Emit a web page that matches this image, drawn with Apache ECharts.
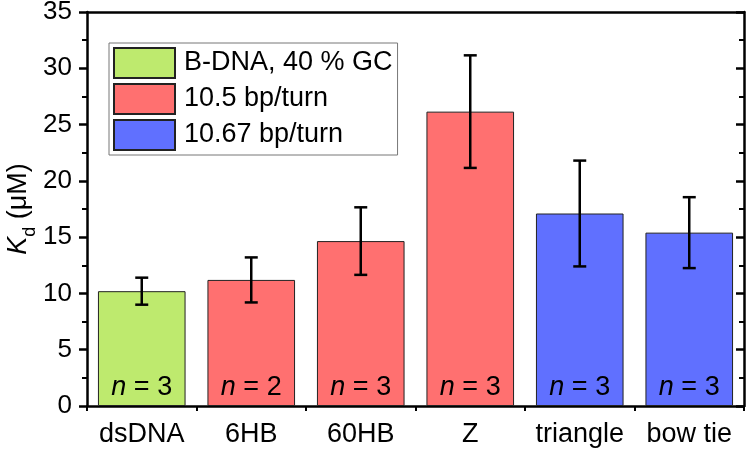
<!DOCTYPE html>
<html><head><meta charset="utf-8">
<script src="https://cdn.jsdelivr.net/npm/echarts@6/dist/echarts.min.js"></script>
<style>html,body{margin:0;padding:0;background:#fff}#c{width:750px;height:452px}</style>
</head><body><div id="c"></div>
<script>
const categories = ['dsDNA', '6HB', '60HB', 'Z', 'triangle', 'bow tie'];
const groupNames = ['B-DNA, 40 % GC', '10.5 bp/turn', '10.67 bp/turn'];
const groupOf = [0, 1, 1, 1, 2, 2];
const kdMean = [10.2, 11.2, 14.65, 26.15, 17.1, 15.4];
const kdErr = [1.2, 2.0, 3.0, 5.0, 4.7, 3.15];
const nCounts = [3, 2, 3, 3, 3, 3];
const yTicks = [0, 5, 10, 15, 20, 25, 30, 35];
const colors = ['#BEEA6E', '#FF7070', '#6070FF'];

const FONT = 'Liberation Sans';
const FS = 27;
const chart = echarts.init(document.getElementById('c'), null, {renderer: 'canvas'});

const barSeries = groupNames.map((name, g) => ({
  type: 'bar', name: name, xAxisIndex: 0, yAxisIndex: 0,
  barWidth: '80%', barGap: '-100%',
  itemStyle: {color: colors[g], borderColor: '#222', borderWidth: 1},
  data: kdMean.map((v, i) => groupOf[i] === g ? v : '-'),
  label: {
    show: true, position: 'insideBottom', distance: 5,
    formatter: p => '{i|n}{t| = ' + nCounts[p.dataIndex] + '}',
    rich: {
      i: {fontFamily: FONT, fontSize: FS, fontStyle: 'italic', color: '#000'},
      t: {fontFamily: FONT, fontSize: FS, color: '#000'}
    }
  },
  z: 2
}));

const errData = kdMean.map((v, i) => [i, v - kdErr[i], v + kdErr[i]]);

const option = {
  animation: false,
  grid: {left: 87, right: 6, top: 12, bottom: 46, containLabel: false, outerBoundsMode: 'none'},
  legend: {
    data: groupNames, orient: 'vertical', left: 109, top: 43,
    itemWidth: 61, itemHeight: 30, itemGap: 4,
    padding: [4, 5, 4, 4],
    borderColor: '#777', borderWidth: 1,
    icon: 'rect',
    itemStyle: {borderColor: '#222', borderWidth: 2},
    textStyle: {fontFamily: FONT, fontSize: FS, color: '#000', padding: [0, 0, 0, 4]}
  },
  xAxis: [
    {type: 'category', data: categories, position: 'bottom',
      axisLine: {lineStyle: {color: '#000', width: 2.5}},
      axisTick: {alignWithLabel: true, interval: 0, length: 8, lineStyle: {width: 2.5, color: '#000'}},
      axisLabel: {interval: 0, hideOverlap: false, fontFamily: FONT, fontSize: FS, color: '#000', margin: 15}},
    {type: 'category', data: categories, position: 'bottom',
      axisLine: {show: false},
      axisTick: {show: true, interval: 0, length: 5, lineStyle: {width: 2, color: '#000'}},
      axisLabel: {show: false}},
    {type: 'category', data: categories, position: 'top',
      axisLine: {lineStyle: {color: '#000', width: 2.5}},
      axisTick: {alignWithLabel: true, interval: 0, inside: true, length: 8, lineStyle: {width: 2.5, color: '#000'}},
      axisLabel: {show: false}}
  ],
  yAxis: [
    {type: 'value', min: yTicks[0], max: yTicks[yTicks.length - 1], interval: 5,
      name: '{k|K}{s|d}{t| (μM)}', nameLocation: 'middle', nameGap: 55, nameRotate: 90,
      nameMoveOverlap: false,
      nameTextStyle: {rich: {
        k: {fontFamily: FONT, fontSize: FS, fontStyle: 'italic', color: '#000'},
        s: {fontFamily: FONT, fontSize: 18, color: '#000', verticalAlign: 'bottom', padding: [0, 0, -7, 0]},
        t: {fontFamily: FONT, fontSize: FS, color: '#000'}
      }},
      axisLine: {show: true, lineStyle: {color: '#000', width: 2.5}},
      axisTick: {show: true, length: 8, lineStyle: {width: 2.5, color: '#000'}},
      minorTick: {show: true, splitNumber: 2, length: 5, lineStyle: {width: 2, color: '#000'}},
      splitLine: {show: false},
      axisLabel: {fontFamily: FONT, fontSize: 26, color: '#000', margin: 15}},
    {type: 'value', position: 'right', min: yTicks[0], max: yTicks[yTicks.length - 1], interval: 5,
      axisLine: {show: true, lineStyle: {color: '#000', width: 2.5}},
      axisTick: {show: true, inside: true, length: 8, lineStyle: {width: 2.5, color: '#000'}},
      minorTick: {show: true, splitNumber: 2, length: 5, lineStyle: {width: 2, color: '#000'}},
      splitLine: {show: false},
      axisLabel: {show: false}}
  ],
  series: barSeries.concat([{
    type: 'custom', name: 'err', xAxisIndex: 0, yAxisIndex: 0, z: 5,
    data: errData,
    renderItem: (params, api) => {
      const x = api.value(0);
      const lo = api.coord([x, api.value(1)]);
      const hi = api.coord([x, api.value(2)]);
      const w = 6.5;
      const st = {stroke: '#000', lineWidth: 2.5};
      return {type: 'group', children: [
        {type: 'line', shape: {x1: lo[0], y1: lo[1], x2: hi[0], y2: hi[1]}, style: st},
        {type: 'line', shape: {x1: hi[0] - w, y1: hi[1], x2: hi[0] + w, y2: hi[1]}, style: st},
        {type: 'line', shape: {x1: lo[0] - w, y1: lo[1], x2: lo[0] + w, y2: lo[1]}, style: st}
      ]};
    }
  }])
};
chart.setOption(option);
</script></body></html>
